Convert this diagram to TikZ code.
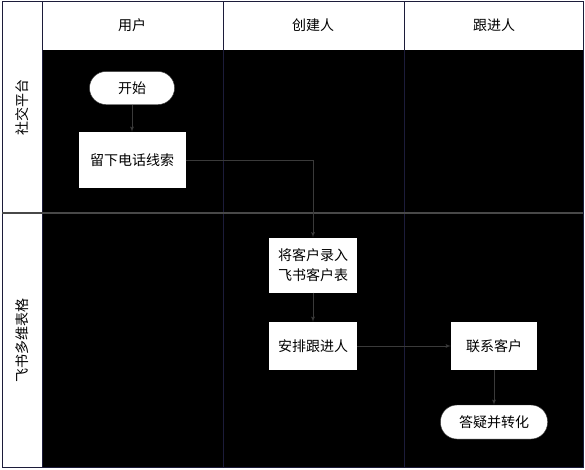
\documentclass[tikz,border=0pt]{standalone}
\usepackage{fontspec}
\newfontfamily\cjk{Noto Sans CJK SC}
\usetikzlibrary{shapes,arrows,positioning}
\definecolor{lanebar}{HTML}{1C1C3A}
\definecolor{rowbar}{HTML}{484848}
\definecolor{flowline}{HTML}{3A3A3A}
\tikzstyle{line} = [draw=flowline, -latex', line width=0.8pt]
\tikzstyle{proc} = [rectangle, fill=white, minimum width=88pt, minimum height=48pt, align=center, inner sep=2pt, font=\cjk\fontsize{14}{20}\selectfont]
\tikzstyle{term} = [rectangle, fill=white, draw=flowline, rounded corners=16.5pt, minimum height=33pt, align=center, font=\cjk\fontsize{14}{20}\selectfont]
\tikzstyle{lanehead} = [font=\cjk\fontsize{14}{16}\selectfont]
\tikzstyle{rowhead} = [rotate=90, font=\cjk\fontsize{14}{16}\selectfont]

\begin{document}
\begin{tikzpicture}[x=1pt, y=1pt]
	\useasboundingbox (0,0) rectangle (585,-469);
	
	% lanes
	\fill [white] (0,0) rectangle (585,-469);
	\fill [black] (42,-50) rectangle (583,-467);
	\draw [lanebar, line width=1pt] (2,-1) rectangle (583,-467);
	\draw [lanebar, line width=1pt] (42,-1) -- (42,-467);
	\draw [lanebar, line width=1pt] (223,-1) -- (223,-467);
	\draw [lanebar, line width=1pt] (404,-1) -- (404,-467);
	\draw [rowbar, line width=1.2pt] (2,-213) -- (583,-213);
	
	\node [lanehead] (user) at (132,-25) {用户};
	\node [lanehead] (creator) at (313,-25) {创建人};
	\node [lanehead] (follower) at (494,-25) {跟进人};
	\node [rowhead] (social) at (22,-107) {社交平台};
	\node [rowhead] (feishu) at (22,-340) {飞书多维表格};
	
	% flow
	\node [term, minimum width=85pt] (start) at (132,-88) {开始};
	\node [proc, below of = start, minimum width=107pt, minimum height=56pt, node distance = 72pt] (clue) {留下电话线索};
	\path [line] (start.south) to (clue.north);
	
	\node [proc, right of = clue, minimum height=55pt, node distance = 181pt, yshift=-105pt] (entry) {将客户录入\\飞书客户表};
	\path [line] (clue.east) -| (entry.north);
	
	\node [proc, below of = entry, node distance = 81pt] (assign) {安排跟进人};
	\path [line] (entry.south) to (assign.north);
	
	\node [proc, right of = assign, minimum width=86pt, node distance = 181pt] (contact) {联系客户};
	\path [line] (assign.east) to (contact.west);
	
	\node [term, below of = contact, minimum width=107pt, minimum height=34pt, node distance = 76pt] (answer) {答疑并转化};
	\path [line] (contact.south) to (answer.north);
\end{tikzpicture}
\end{document}
